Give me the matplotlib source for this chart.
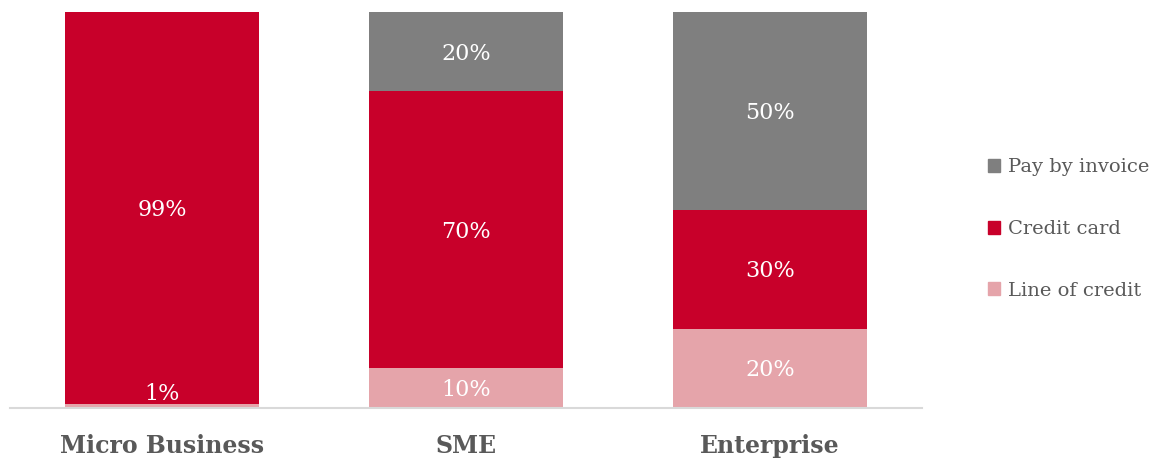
import matplotlib.pyplot as plt
from matplotlib.patches import Patch

categories = ['Micro Business', 'SME', 'Enterprise']
line_of_credit = [1, 10, 20]
credit_card = [99, 70, 30]
pay_by_invoice = [0, 20, 50]

series = [('Line of credit', line_of_credit, '#e5a4aa'),
          ('Credit card', credit_card, '#c8002a'),
          ('Pay by invoice', pay_by_invoice, '#7f7f7f')]

plt.rcParams['font.family'] = ['DejaVu Serif']

fig = plt.figure(figsize=(11.58, 4.61), dpi=100)
ax = fig.add_axes([10 / 1158, 53 / 461, 912 / 1158, 396 / 461])

x = range(len(categories))
bottom = [0, 0, 0]
for name, vals, color in series:
    ax.bar(x, vals, 0.64, bottom=bottom, color=color, label=name)
    for i, v in enumerate(vals):
        if v > 0:
            y = bottom[i] + v / 2
            if v < 5:
                # tiny segment: lift the label so it stays readable
                y = bottom[i] + 4
            ax.text(i, y - 0.5, f'{v}%', ha='center', va='center', color='white', fontsize=16)
    bottom = [b + v for b, v in zip(bottom, vals)]

ax.set_xlim(-0.5, 2.5)
ax.set_ylim(0, 100)
ax.set_yticks([])
ax.set_xticks(list(x))
ax.set_xticklabels(categories, fontsize=17, fontweight='bold', color='#595959')
ax.tick_params(axis='x', length=0, pad=19)
for s in ['top', 'right', 'left']:
    ax.spines[s].set_visible(False)
ax.spines['bottom'].set_color('#d9d9d9')
ax.spines['bottom'].set_linewidth(1.5)

handles = [Patch(color=c, label=n) for n, _, c in reversed(series)]
leg = fig.legend(handles=handles, loc='center left', bbox_to_anchor=(978 / 1158, 232 / 461),
                 frameon=False, fontsize=14, labelspacing=2.25, handlelength=0.65,
                 handleheight=0.65, handletextpad=0.4, borderpad=0)
for t in leg.get_texts():
    t.set_color('#595959')

fig.savefig('out.png', dpi=100)
